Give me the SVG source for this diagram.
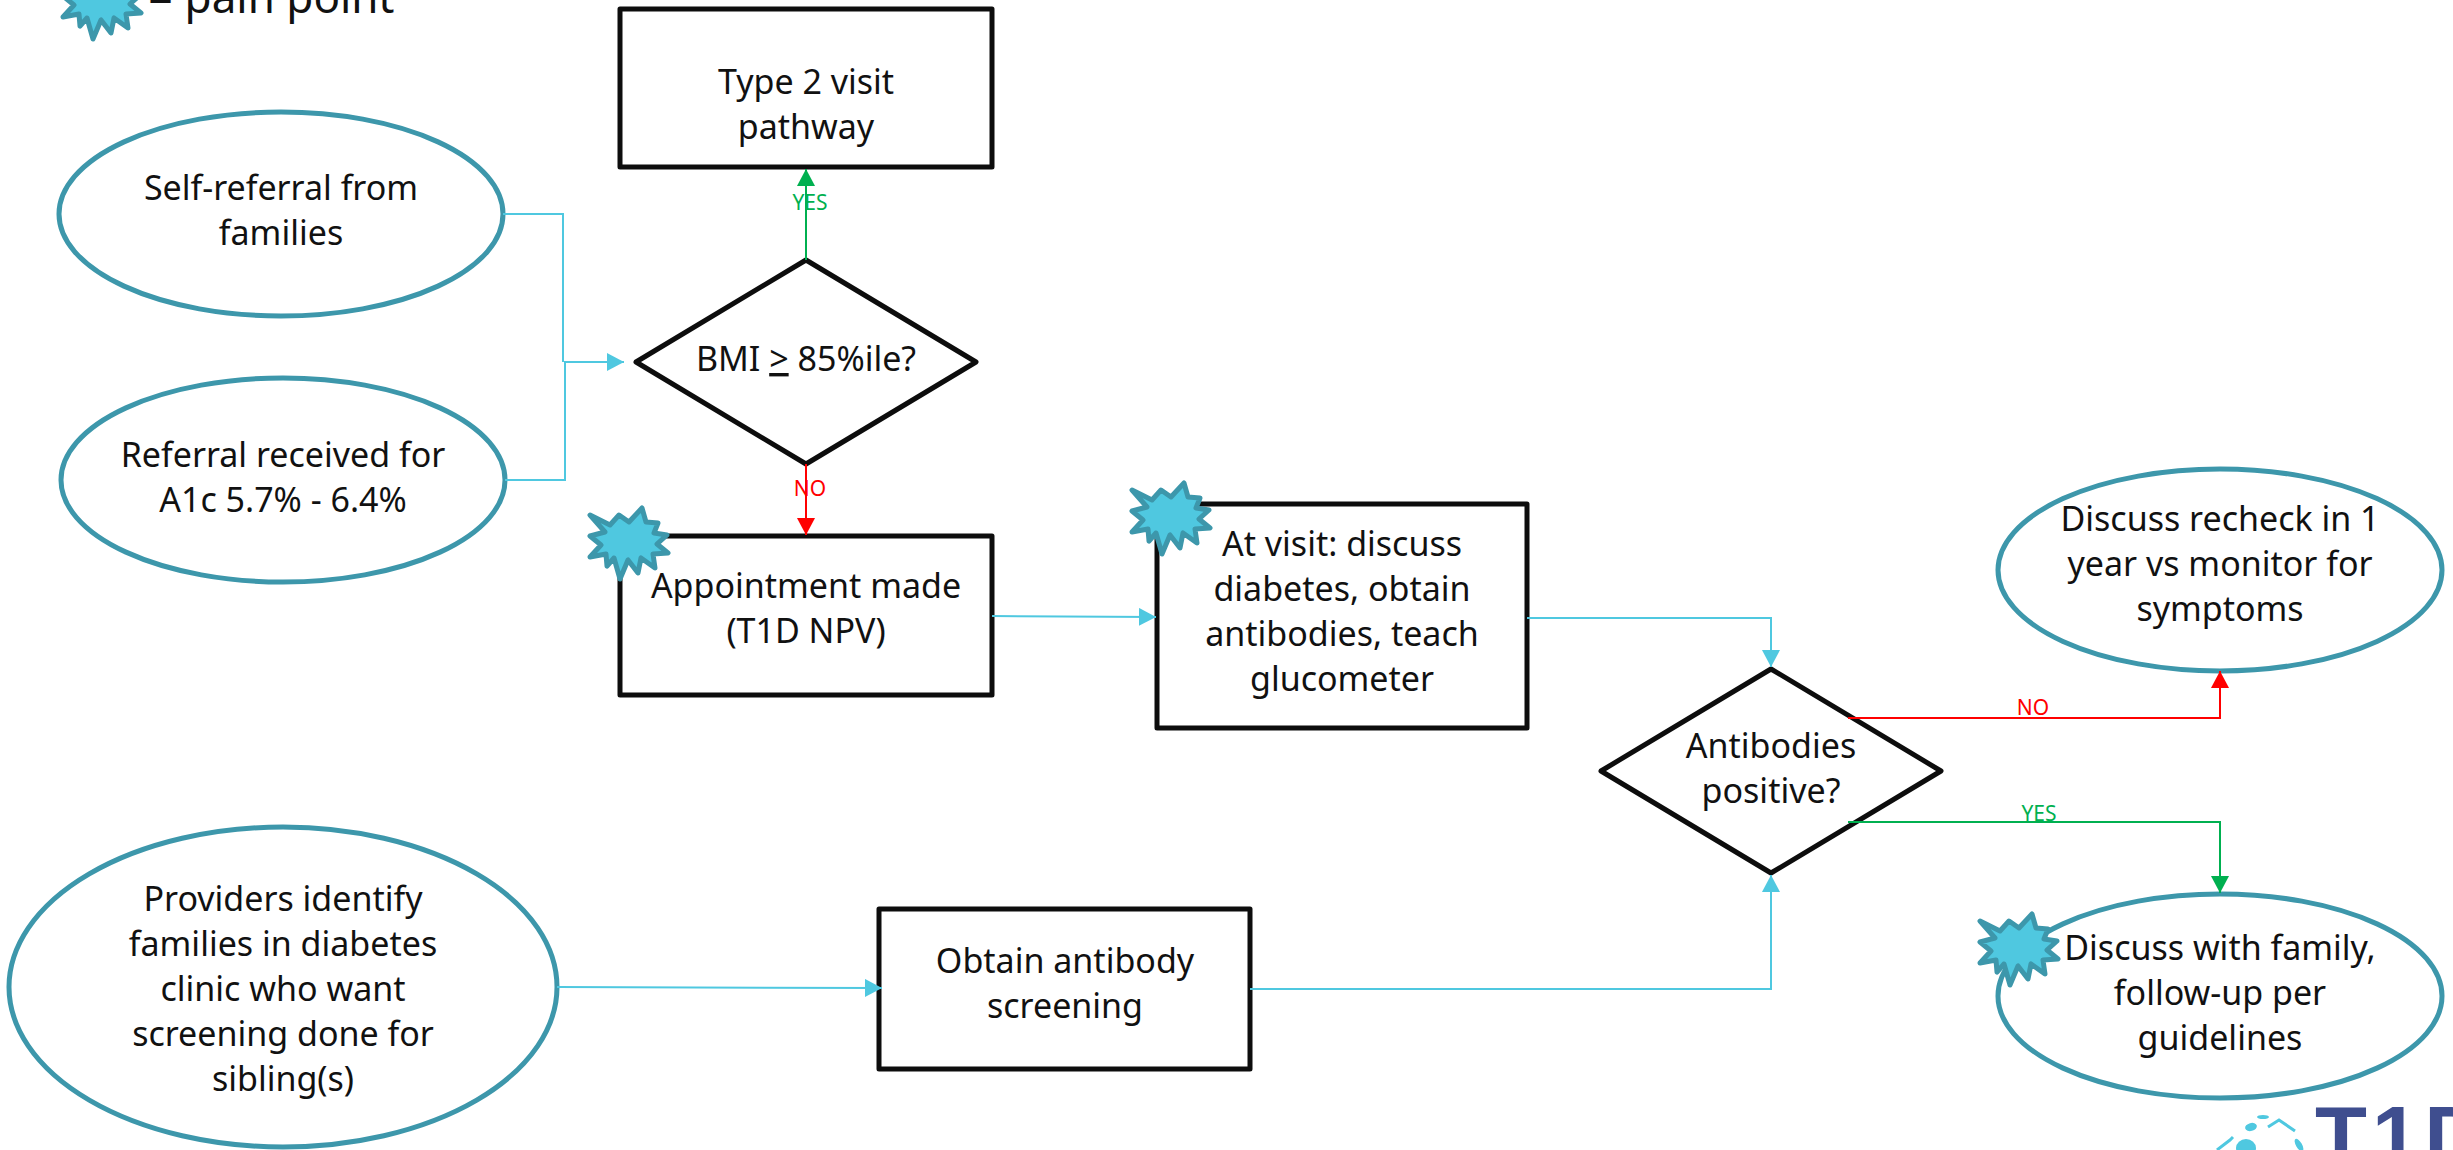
<svg xmlns="http://www.w3.org/2000/svg" width="2453" height="1150" viewBox="0 0 2453 1150">
<style>
text{font-family:"Noto Sans","Open Sans",sans-serif;font-size:34px;fill:#111;text-anchor:middle}
.box{fill:#fff;stroke:#0d0d0d;stroke-width:5;stroke-linejoin:round}
.oval{fill:#fff;stroke:#3d97ab;stroke-width:5}
.c{fill:none;stroke-width:2}
.b{stroke:#4fc8e0}.r{stroke:#ff0000}.g{stroke:#00b050}
.lab{font-size:21px}
.star{fill:#4fc8e0;stroke:#3d97ab;stroke-width:5;stroke-linejoin:round}
.logo{fill:#4fc8e0}
</style>
<defs>
<marker id="ab" markerUnits="userSpaceOnUse" markerWidth="18" markerHeight="18" refX="17" refY="9" orient="auto"><path d="M0 0L17 9L0 18Z" fill="#4fc8e0"/></marker>
<marker id="ar" markerUnits="userSpaceOnUse" markerWidth="18" markerHeight="18" refX="17" refY="9" orient="auto"><path d="M0 0L17 9L0 18Z" fill="#ff0000"/></marker>
<marker id="ag" markerUnits="userSpaceOnUse" markerWidth="18" markerHeight="18" refX="17" refY="9" orient="auto"><path d="M0 0L17 9L0 18Z" fill="#00b050"/></marker>
<path id="s" class="star" d="M-38-28L-18-18L-9-28L1-21L14-35L18-21L30-20L26-10L39-8L29 1L40 10L25 11L27 25L13 15L10 30L0 17L-8 36L-14 15L-21 23L-22 11L-38 14L-27 2L-38-7L-23-11Z"/>
</defs>

<g id="node-type2"><rect class="box" x="620" y="9" width="372" height="158"/><text x="806" y="94">Type 2 visit</text><text x="806" y="139">pathway</text></g>
<g id="node-self"><ellipse class="oval" cx="281" cy="214" rx="222" ry="102"/><text x="281" y="200">Self-referral from</text><text x="281" y="245">families</text></g>
<g id="node-referral"><ellipse class="oval" cx="283" cy="480" rx="222" ry="102"/><text x="283" y="467">Referral received for</text><text x="283" y="512">A1c 5.7% - 6.4%</text></g>
<g id="node-bmi"><path class="box" d="M806 260L976 362L806 464L636 362Z"/><text x="806" y="371">BMI <tspan text-decoration="underline">&gt;</tspan> 85%ile?</text></g>
<g id="node-appt"><rect class="box" x="620" y="536" width="372" height="159"/><text x="806" y="598">Appointment made</text><text x="806" y="643">(T1D NPV)</text></g>
<g id="node-visit"><rect class="box" x="1157" y="504" width="370" height="224"/><text x="1342" y="556">At visit: discuss</text><text x="1342" y="601">diabetes, obtain</text><text x="1342" y="646">antibodies, teach</text><text x="1342" y="691">glucometer</text></g>
<g id="node-antibodies"><path class="box" d="M1771 669L1941 771L1771 873L1601 771Z"/><text x="1771" y="758">Antibodies</text><text x="1771" y="803">positive?</text></g>
<g id="node-recheck"><ellipse class="oval" cx="2220" cy="570" rx="222" ry="101"/><text x="2220" y="531">Discuss recheck in 1</text><text x="2220" y="576">year vs monitor for</text><text x="2220" y="621">symptoms</text></g>
<g id="node-follow"><ellipse class="oval" cx="2220" cy="996" rx="222" ry="102"/><text x="2220" y="960">Discuss with family,</text><text x="2220" y="1005">follow-up per</text><text x="2220" y="1050">guidelines</text></g>
<g id="node-providers"><ellipse class="oval" cx="283" cy="987" rx="274" ry="160"/><text x="283" y="911">Providers identify</text><text x="283" y="956">families in diabetes</text><text x="283" y="1001">clinic who want</text><text x="283" y="1046">screening done for</text><text x="283" y="1091">sibling(s)</text></g>
<g id="node-obtain"><rect class="box" x="879" y="909" width="371" height="160"/><text x="1065" y="973">Obtain antibody</text><text x="1065" y="1018">screening</text></g>

<g id="connectors">
<path class="c b" d="M503 214H563V362"/>
<path class="c b" d="M505 480H565V362H624" marker-end="url(#ab)"/>
<path class="c g" d="M806 260V169" marker-end="url(#ag)"/>
<path class="c r" d="M806 464V535" marker-end="url(#ar)"/>
<path class="c b" d="M992 616L1156 617" marker-end="url(#ab)"/>
<path class="c b" d="M1527 618H1771V667" marker-end="url(#ab)"/>
<path class="c b" d="M557 987L882 988" marker-end="url(#ab)"/>
<path class="c b" d="M1250 989H1771V875" marker-end="url(#ab)"/>
<path class="c r" d="M1848 718H2220V671" marker-end="url(#ar)"/>
<path class="c g" d="M1848 822H2220V893" marker-end="url(#ag)"/>
</g>
<g id="labels">
<text class="lab" x="810" y="210" style="fill:#00b050">YES</text>
<text class="lab" x="810" y="496" style="fill:#ff0000">NO</text>
<text class="lab" x="2033" y="715" style="fill:#ff0000">NO</text>
<text class="lab" x="2039" y="821" style="fill:#00b050">YES</text>
</g>
<g id="pain-points">
<use href="#s" x="628" y="543"/><use href="#s" x="1170" y="518"/><use href="#s" x="2018" y="949"/><use href="#s" x="101" y="3"/>
</g>
<g id="legend"><text x="148" y="13" style="font-size:44px;text-anchor:start">= pain point</text></g>
<g id="logo">
<ellipse class="logo" cx="2263" cy="1117" rx="6" ry="2"/>
<ellipse class="logo" cx="2251" cy="1127" rx="6" ry="4" transform="rotate(-15 2251 1127)"/>
<ellipse class="logo" cx="2246" cy="1148" rx="10" ry="9"/>
<path d="M2268 1127L2279 1120L2295 1131" fill="none" stroke="#4fc8e0" stroke-width="3"/>
<path d="M2217 1150L2230 1140L2233 1137" fill="none" stroke="#4fc8e0" stroke-width="3"/>
<ellipse class="logo" cx="2299" cy="1145" rx="3" ry="7" transform="rotate(-30 2299 1145)"/>
<text x="2315" y="1166" style="font-family:'Liberation Sans',sans-serif;font-weight:bold;font-size:85px;letter-spacing:5px;fill:#3f4e8f;text-anchor:start">T1D</text>
</g>
</svg>
